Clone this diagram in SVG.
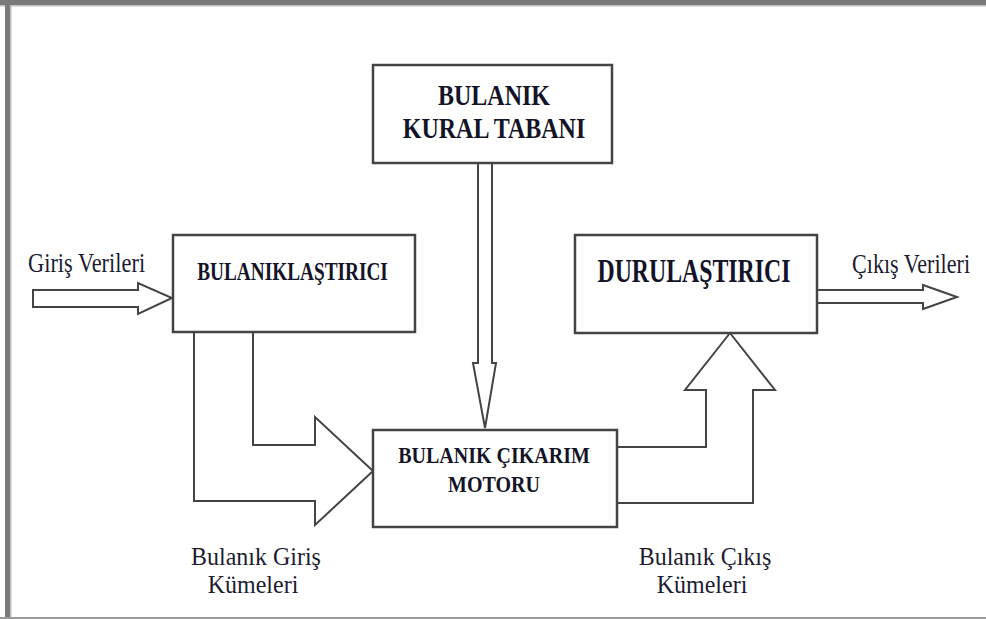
<svg xmlns="http://www.w3.org/2000/svg" width="986" height="619" viewBox="0 0 986 619">
<style>
.box{fill:#fff;stroke:#444;stroke-width:2.5}
.arr{fill:#fff;stroke:#444;stroke-width:2;stroke-linejoin:miter}
.b{font-family:'Liberation Serif','DejaVu Serif',serif;font-weight:bold;fill:#141428}
.r{font-family:'Liberation Serif','DejaVu Serif',serif;fill:#1c1c30}
</style>
<rect x="0" y="0" width="986" height="619" fill="#fff"/>
<rect x="0" y="0" width="986" height="5" fill="#7a7a7a"/>
<rect x="0" y="5" width="986" height="1.5" fill="#c0c0c0"/>
<rect x="5" y="0" width="5" height="619" fill="#7a7a7a"/>
<rect x="10" y="6" width="1.5" height="613" fill="#c0c0c0"/>
<rect x="0" y="617" width="986" height="2" fill="#9a9a9a"/>

<g id="connectors">
<polygon class="arr" points="478,163 478,363 473,363 485,428 496,363 492,363 492,163"/>
<polygon class="arr" points="33,290 138,290 138,283 172,298 138,314 138,307 33,307"/>
<polygon class="arr" points="817,290 923,290 923,285 957,297 923,309 923,303 817,303"/>
<polygon class="arr" points="194,332 194,501 315,501 315,525 373,471 315,417 315,445 253,445 253,332"/>
<polygon class="arr" points="617,447 706,447 706,390 685,390 730,333 775,390 753,390 753,503 617,503"/>
</g>

<g id="kural">
<rect class="box" x="373" y="65" width="239" height="98"/>
<text class="b" font-size="24" text-anchor="middle" transform="translate(494,105) scale(1,1.25)">BULANIK</text>
<text class="b" font-size="24" text-anchor="middle" transform="translate(494,138) scale(1,1.25)">KURAL TABANI</text>
</g>

<g id="bulaniklastirici">
<rect class="box" x="173" y="235" width="242" height="97"/>
<text class="b" font-size="19.3" text-anchor="middle" transform="translate(292.5,280) scale(1,1.35)">BULANIKLAŞTIRICI</text>
</g>

<g id="durulastirici">
<rect class="box" x="575" y="235" width="242" height="98"/>
<text class="b" font-size="23.8" text-anchor="middle" transform="translate(694,282) scale(1,1.4)">DURULAŞTIRICI</text>
</g>

<g id="motor">
<rect class="box" x="373" y="430" width="244" height="97"/>
<text class="b" font-size="20" text-anchor="middle" transform="translate(494,463) scale(1,1.15)">BULANIK ÇIKARIM</text>
<text class="b" font-size="20" text-anchor="middle" transform="translate(494,492) scale(1,1.15)">MOTORU</text>
</g>

<g id="labels">
<text class="r" font-size="22.4" transform="translate(28,272) scale(1,1.2)">Giriş Verileri</text>
<text class="r" font-size="22.1" transform="translate(852,273) scale(1,1.2)">Çıkış Verileri</text>
<text class="r" font-size="24" text-anchor="middle" transform="translate(256,565) scale(1,1.05)">Bulanık Giriş</text>
<text class="r" font-size="24" text-anchor="middle" transform="translate(253,593) scale(1,1.05)">Kümeleri</text>
<text class="r" font-size="24" text-anchor="middle" transform="translate(705,565) scale(1,1.05)">Bulanık Çıkış</text>
<text class="r" font-size="24" text-anchor="middle" transform="translate(702,593) scale(1,1.05)">Kümeleri</text>
</g>
</svg>
